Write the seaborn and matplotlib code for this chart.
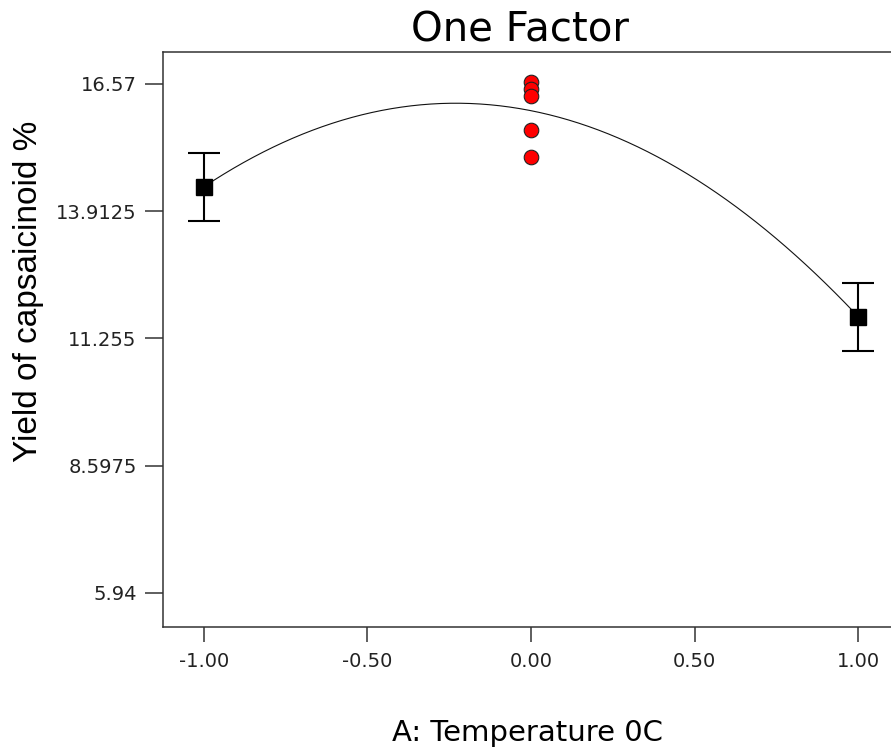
import numpy as np
import pandas as pd
import seaborn as sns
import matplotlib.pyplot as plt

# --- data ---
levels = [-1.0, 0.0, 1.0]
end_x = [-1.0, 1.0]
end_means = [14.42, 11.71]          # black squares
end_half_lsd = [0.71, 0.71]         # error bar half widths
center_x = [0.0, 0.0, 0.0, 0.0, 0.0]
center_y = [16.60, 16.46, 16.32, 15.61, 15.05]   # red design points

y_ticks = [5.94, 8.5975, 11.255, 13.9125, 16.57]
y_tick_labels = ['5.94', '8.5975', '11.255', '13.9125', '16.57']
x_ticks = [-1.0, -0.5, 0.0, 0.5, 1.0]
x_tick_labels = ['-1.00', '-0.50', '0.00', '0.50', '1.00']

# quadratic model through the level means
level_means = [end_means[0], float(np.mean(center_y)), end_means[1]]
coef = np.polyfit(levels, level_means, 2)
grid = np.linspace(-1, 1, 200)
curve = pd.DataFrame({'A': grid, 'Yield': np.polyval(coef, grid)})
points = pd.DataFrame({'A': center_x, 'Yield': center_y})

sns.set_theme(style='ticks')
plt.rcParams['font.family'] = ['DejaVu Sans']

fig = plt.figure(figsize=(8.91, 7.49), dpi=100)
ax = fig.add_axes([0.183, 0.163, 0.826, 0.768])

sns.lineplot(data=curve, x='A', y='Yield', color='#111111', linewidth=0.8, ax=ax)
ax.errorbar(end_x, end_means, yerr=end_half_lsd, fmt='none', ecolor='black',
            elinewidth=1.5, capsize=11.5, capthick=1.5, zorder=3)
ax.plot(end_x, end_means, 's', color='black', markersize=11, zorder=4)
sns.scatterplot(data=points, x='A', y='Yield', color='red', edgecolor='#222222',
                linewidth=0.8, s=110, zorder=5, ax=ax)

ax.set_xlim(-1.125, 1.125)
ax.set_ylim(5.23, 17.24)
ax.set_xticks(x_ticks)
ax.set_xticklabels(x_tick_labels)
ax.set_yticks(y_ticks)
ax.set_yticklabels(y_tick_labels)

for side in ['left', 'bottom', 'top']:
    ax.spines[side].set_linewidth(1.1)
    ax.spines[side].set_color('#333333')
ax.spines['right'].set_visible(False)

ax.tick_params(axis='y', length=13, width=1.1, color='#333333', pad=6,
               labelsize=14, labelcolor='#222222')
ax.tick_params(axis='x', length=11, width=1.1, color='#333333', pad=7,
               labelsize=14, labelcolor='#222222')

title = ax.set_title('One Factor', fontsize=29, pad=7, color='black')
title.set_x((520 - 163) / 736)

ax.set_xlabel('A: Temperature 0C', fontsize=21, color='black')
ax.xaxis.set_label_coords(0.495, -0.199)
ax.xaxis.label.set_va('baseline')

ax.set_ylabel('Yield of capsaicinoid %', fontsize=24, color='black',
              family=['Liberation Sans', 'DejaVu Sans'])
ax.yaxis.set_label_coords(-0.162, 0.584)

fig.savefig('out.png', dpi=100)
